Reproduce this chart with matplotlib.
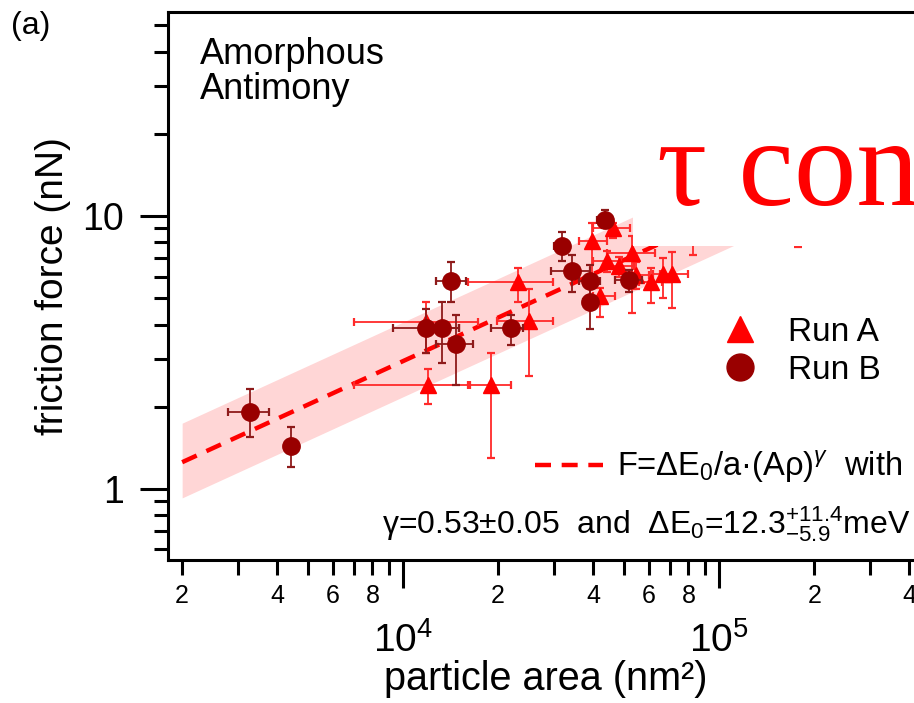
import numpy as np
import matplotlib
matplotlib.use("Agg")
import matplotlib.pyplot as plt
from matplotlib.ticker import LogLocator, FuncFormatter, NullFormatter
from matplotlib.patches import Rectangle
from matplotlib.lines import Line2D

plt.rcParams['font.family'] = ['Liberation Sans', 'DejaVu Sans']
plt.rcParams['mathtext.fontset'] = 'custom'
plt.rcParams['mathtext.rm'] = 'Liberation Sans'
plt.rcParams['mathtext.it'] = 'Liberation Sans:italic'
plt.rcParams['mathtext.bf'] = 'Liberation Sans:bold'

# Run A: particle area (nm^2), friction force (nN) and error bar bounds
runA_area    = [1.20e4, 1.90e4, 1.18e4, 2.31e4, 2.50e4, 3.96e4, 4.62e4, 4.20e4,
                4.42e4, 4.83e4, 5.31e4, 5.46e4, 6.09e4, 6.65e4, 7.10e4, 8.30e4, 1.78e5]
runA_area_lo = [7.0e3, 1.63e4, 7.0e3, 1.61e4, 1.98e4, 3.60e4, 3.99e4, 3.99e4,
                4.00e4, 4.40e4, 4.42e4, 5.00e4, 5.60e4, 6.20e4, 6.50e4, 7.60e4, 1.65e5]
runA_area_hi = [1.61e4, 2.20e4, 1.73e4, 2.98e4, 2.98e4, 4.42e4, 5.23e4, 4.68e4,
                4.90e4, 5.40e4, 6.27e4, 6.00e4, 6.60e4, 7.10e4, 8.00e4, 9.00e4, 1.90e5]
runA_force    = [2.40, 2.40, 4.09, 5.73, 4.12, 8.10, 9.03, 5.09,
                 6.84, 6.56, 7.32, 6.08, 5.73, 6.13, 6.13, 9.60, 11.0]
runA_force_lo = [2.05, 1.30, 3.15, 4.84, 2.59, 5.78, 8.30, 4.27,
                 6.23, 6.00, 4.41, 5.40, 4.80, 5.01, 4.60, 7.20, 7.70]
runA_force_hi = [2.75, 3.15, 4.84, 6.45, 5.40, 9.43, 9.43, 5.44,
                 7.45, 7.10, 8.44, 6.80, 6.45, 7.02, 7.37, 11.5, 14.0]

# Run B
runB_area    = [3.28e3, 4.43e3, 1.42e4, 1.18e4, 1.33e4, 1.47e4, 2.20e4,
                4.35e4, 3.18e4, 3.43e4, 3.91e4, 3.91e4, 5.19e4]
runB_area_lo = [2.79e3, 4.30e3, 1.27e4, 9.30e3, 1.20e4, 1.27e4, 1.90e4,
                4.10e4, 3.00e4, 2.94e4, 3.60e4, 3.70e4, 4.68e4]
runB_area_hi = [3.77e3, 4.60e3, 1.58e4, 1.50e4, 1.50e4, 1.67e4, 2.40e4,
                4.60e4, 3.35e4, 3.91e4, 4.20e4, 4.10e4, 5.70e4]
runB_force    = [1.91, 1.44, 5.78, 3.89, 3.89, 3.40, 3.89,
                 9.67, 7.77, 6.29, 5.78, 4.84, 5.83]
runB_force_lo = [1.55, 1.20, 4.84, 3.15, 2.89, 2.40, 3.37,
                 9.00, 6.84, 5.26, 5.10, 3.85, 5.26]
runB_force_hi = [2.32, 1.69, 6.78, 4.56, 4.84, 4.34, 4.34,
                 10.5, 8.75, 7.20, 6.60, 5.58, 6.34]

# power-law fit F = F0 * (A / 1e4)^gamma and its confidence band
fit_gamma = 0.53
fit_F0 = 2.94
band_upper = 1.39
band_lower = 0.74
fit_area = np.logspace(np.log10(2e3), np.log10(4.5e5), 200)


def errs(v, lo, hi):
    v, lo, hi = map(np.asarray, (v, lo, hi))
    return np.vstack([v - lo, hi - v])


fig = plt.figure(figsize=(9.14, 7.03), dpi=100)
ax = fig.add_axes([0.1838, 0.2034, 0.8271, 0.7795])
ax.set_xscale('log')
ax.set_yscale('log')
ax.set_xlim(1.804e3, 4.45e5)
ax.set_ylim(0.549, 55.9)

fit_F = fit_F0 * (fit_area / 1e4) ** fit_gamma
ax.fill_between(fit_area, fit_F * band_lower, fit_F * band_upper,
                color='#ffd6d6', lw=0, zorder=1)
fit_line, = ax.plot(fit_area, fit_F, color='#ff0000', lw=3.2,
                    ls=(0, (3.6, 2.4)), zorder=2)

ax.errorbar(runA_area, runA_force,
            xerr=errs(runA_area, runA_area_lo, runA_area_hi),
            yerr=errs(runA_force, runA_force_lo, runA_force_hi),
            fmt='none', ecolor='#ff2a2a', elinewidth=1.3, capsize=3,
            capthick=1.6, zorder=3)
ax.plot(runA_area, runA_force, ls='none', marker='^', ms=12,
        color='#ff0000', mec='#ff0000', zorder=4)
ax.errorbar(runB_area, runB_force,
            xerr=errs(runB_area, runB_area_lo, runB_area_hi),
            yerr=errs(runB_force, runB_force_lo, runB_force_hi),
            fmt='none', ecolor='#8e1a1a', elinewidth=1.3, capsize=3,
            capthick=1.6, zorder=5)
ax.plot(runB_area, runB_force, ls='none', marker='o', ms=12.5,
        color='#990000', mec='#990000', zorder=6)

# axes styling
for s in ax.spines.values():
    s.set_linewidth(2.2)
ax.xaxis.set_major_locator(LogLocator(base=10, numticks=12))
ax.xaxis.set_minor_locator(LogLocator(base=10, subs=np.arange(2, 10), numticks=12))
ax.yaxis.set_major_locator(LogLocator(base=10, numticks=12))
ax.yaxis.set_minor_locator(LogLocator(base=10, subs=np.arange(2, 10), numticks=12))


def x_major(v, pos):
    return r'$10^{%d}$' % int(round(np.log10(v)))


def x_minor(v, pos):
    d = int(round(v / 10 ** np.floor(np.log10(v) + 1e-9)))
    return str(d) if d in (2, 4, 6, 8) else ''


ax.xaxis.set_major_formatter(FuncFormatter(x_major))
ax.xaxis.set_minor_formatter(FuncFormatter(x_minor))
ax.yaxis.set_major_formatter(FuncFormatter(lambda v, p: '%g' % v))
ax.yaxis.set_minor_formatter(NullFormatter())

ax.tick_params(axis='both', which='both', direction='out', width=2.2,
               top=False, right=False)
ax.tick_params(axis='x', which='major', length=20, pad=25, labelsize=28)
ax.tick_params(axis='x', which='minor', length=11, pad=6, labelsize=18)
ax.tick_params(axis='y', which='major', length=20, pad=12, labelsize=27)
ax.tick_params(axis='y', which='minor', length=10)

ax.set_xlabel('particle area (nm²)', fontsize=28.5, labelpad=0)
ax.set_ylabel('friction force (nN)', fontsize=28, labelpad=8)

ax.text(0.042, 0.955, 'Amorphous\nAntimony', transform=ax.transAxes,
        fontsize=26, va='top', ha='left', linespacing=1.0)
fig.text(0.012, 0.985, '(a)', fontsize=23, va='top', ha='left')

# white panel behind the slide caption
ax.add_patch(Rectangle((0.615, 0.573), 0.5, 0.376, transform=ax.transAxes,
                       facecolor='white', edgecolor='none', zorder=8))
fig.text(657 / 914, 1 - 205 / 703, 'τ const', family='Liberation Serif',
         fontsize=90, color='#ff0000', va='baseline', ha='left', zorder=10)

h_a = Line2D([], [], ls='none', marker='^', ms=12, color='#ff0000')
h_b = Line2D([], [], ls='none', marker='o', ms=12.5, color='#990000')
leg1 = ax.legend([h_a, h_b], ['Run A', 'Run B'], loc='upper left',
                 bbox_to_anchor=(0.730, 0.444), frameon=False,
                 fontsize=24, markerscale=1.55, handlelength=1.2,
                 handletextpad=0.84, labelspacing=0.22, borderpad=0,
                 borderaxespad=0)
leg1.set_zorder(9)
ax.add_artist(leg1)
leg2 = ax.legend([fit_line], [r'F=ΔE$_0$/a·(Aρ)$^{γ}$  with'], loc='upper left',
                 bbox_to_anchor=(0.4854, 0.203), frameon=False,
                 fontsize=23.5, handlelength=2.09, handletextpad=0.43,
                 borderpad=0, borderaxespad=0)
leg2.set_zorder(9)

fig.text(382 / 914, 1 - 533 / 703,
         r'γ=0.53±0.05  and  ΔE$_0$=12.3$^{+11.4}_{-5.9}$meV',
         fontsize=23, va='baseline', ha='left')

fig.savefig('out.png', dpi=100)
